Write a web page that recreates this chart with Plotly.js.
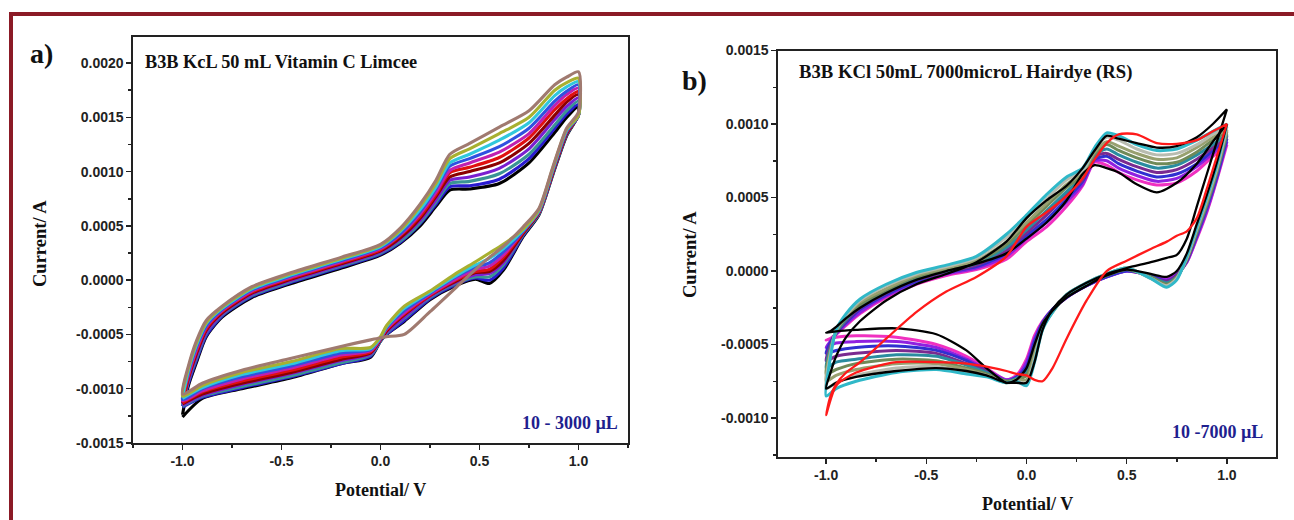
<!DOCTYPE html>
<html><head><meta charset="utf-8">
<script src="https://cdn.plot.ly/plotly-3.0.1.min.js"></script>
<style>html,body{margin:0;padding:0;background:#fff;}#chart{width:1294px;height:520px;}</style>
</head><body><div id="chart"></div>
<script>
// ---------- Panel a: potentials (V) ----------
const potAFwd = [-1.0, -0.97, -0.93, -0.88, -0.8, -0.65, -0.45, -0.2, 0.0, 0.1, 0.2, 0.28, 0.35, 0.45, 0.6, 0.75, 0.88, 0.94, 1.0];
const potARev = [1.0, 0.94, 0.87, 0.8, 0.72, 0.62, 0.55, 0.48, 0.38, 0.25, 0.12, 0.03, 0.0, -0.05, -0.2, -0.45, -0.7, -0.9, -1.0];
// Panel a currents (mA), forward scan then reverse scan
const a0Fwd = [-1.24, -0.97, -0.76, -0.52, -0.34, -0.16, -0.03, 0.11, 0.23, 0.34, 0.50, 0.68, 0.83, 0.84, 0.89, 1.08, 1.36, 1.50, 1.60];
const a1Fwd = [-1.16, -0.95, -0.74, -0.51, -0.33, -0.15, -0.02, 0.12, 0.24, 0.35, 0.52, 0.70, 0.86, 0.87, 0.93, 1.12, 1.40, 1.53, 1.62];
const a2Fwd = [-1.15, -0.93, -0.72, -0.49, -0.32, -0.14, -0.01, 0.13, 0.25, 0.36, 0.53, 0.72, 0.89, 0.91, 0.98, 1.16, 1.43, 1.56, 1.65];
const a3Fwd = [-1.14, -0.92, -0.70, -0.48, -0.31, -0.13, 0.00, 0.14, 0.26, 0.38, 0.55, 0.74, 0.92, 0.95, 1.03, 1.21, 1.48, 1.60, 1.68];
const a4Fwd = [-1.13, -0.90, -0.68, -0.46, -0.30, -0.12, 0.01, 0.15, 0.27, 0.39, 0.57, 0.77, 0.95, 1.00, 1.08, 1.26, 1.52, 1.64, 1.71];
const a5Fwd = [-1.12, -0.89, -0.66, -0.45, -0.29, -0.11, 0.02, 0.16, 0.28, 0.41, 0.59, 0.79, 0.99, 1.04, 1.13, 1.31, 1.57, 1.67, 1.74];
const a6Fwd = [-1.11, -0.87, -0.64, -0.43, -0.28, -0.10, 0.03, 0.17, 0.29, 0.42, 0.61, 0.81, 1.01, 1.08, 1.18, 1.35, 1.61, 1.71, 1.77];
const a7Fwd = [-1.10, -0.85, -0.62, -0.42, -0.27, -0.09, 0.04, 0.18, 0.30, 0.43, 0.63, 0.84, 1.05, 1.12, 1.23, 1.40, 1.65, 1.74, 1.80];
const a8Fwd = [-1.08, -0.83, -0.60, -0.40, -0.26, -0.08, 0.05, 0.19, 0.31, 0.45, 0.65, 0.86, 1.08, 1.16, 1.29, 1.45, 1.70, 1.78, 1.83];
const a9Fwd = [-1.07, -0.81, -0.58, -0.39, -0.25, -0.07, 0.06, 0.20, 0.32, 0.46, 0.68, 0.89, 1.12, 1.21, 1.35, 1.50, 1.75, 1.82, 1.86];
const a10Fwd = [-1.05, -0.79, -0.56, -0.37, -0.24, -0.06, 0.07, 0.21, 0.33, 0.48, 0.70, 0.92, 1.16, 1.26, 1.41, 1.56, 1.80, 1.87, 1.92];
const a0Rev = [1.52, 1.33, 0.97, 0.60, 0.40, 0.09, -0.03, 0.01, -0.05, -0.18, -0.38, -0.50, -0.56, -0.71, -0.77, -0.90, -1.00, -1.09, -1.26];
const a1Rev = [1.52, 1.34, 0.98, 0.61, 0.41, 0.11, 0.00, 0.02, -0.04, -0.17, -0.37, -0.50, -0.56, -0.70, -0.77, -0.89, -0.99, -1.08, -1.17];
const a2Rev = [1.52, 1.34, 0.98, 0.61, 0.42, 0.14, 0.03, 0.03, -0.03, -0.16, -0.35, -0.49, -0.56, -0.69, -0.76, -0.88, -0.98, -1.07, -1.16];
const a3Rev = [1.52, 1.35, 0.99, 0.62, 0.43, 0.16, 0.06, 0.05, -0.02, -0.15, -0.34, -0.48, -0.55, -0.68, -0.74, -0.86, -0.96, -1.06, -1.15];
const a4Rev = [1.52, 1.35, 0.99, 0.62, 0.43, 0.18, 0.08, 0.07, -0.01, -0.14, -0.32, -0.47, -0.55, -0.67, -0.73, -0.85, -0.95, -1.05, -1.14];
const a5Rev = [1.52, 1.36, 1.00, 0.63, 0.44, 0.21, 0.10, 0.08, 0.00, -0.14, -0.31, -0.46, -0.54, -0.66, -0.71, -0.83, -0.93, -1.03, -1.13];
const a6Rev = [1.52, 1.37, 1.01, 0.63, 0.45, 0.23, 0.13, 0.10, 0.01, -0.13, -0.30, -0.45, -0.54, -0.65, -0.69, -0.81, -0.91, -1.02, -1.11];
const a7Rev = [1.52, 1.37, 1.01, 0.64, 0.45, 0.26, 0.16, 0.12, 0.03, -0.12, -0.28, -0.44, -0.53, -0.64, -0.67, -0.79, -0.89, -1.00, -1.10];
const a8Rev = [1.52, 1.38, 1.02, 0.64, 0.46, 0.29, 0.20, 0.14, 0.04, -0.11, -0.26, -0.43, -0.53, -0.63, -0.65, -0.77, -0.87, -0.99, -1.09];
const a9Rev = [1.52, 1.39, 1.03, 0.65, 0.47, 0.33, 0.25, 0.17, 0.06, -0.10, -0.24, -0.42, -0.52, -0.62, -0.63, -0.75, -0.85, -0.97, -1.07];
const a10Rev = [1.55, 1.40, 1.04, 0.66, 0.49, 0.31, 0.21, 0.10, -0.07, -0.29, -0.50, -0.52, -0.53, -0.55, -0.61, -0.72, -0.83, -0.95, -1.05];
const colorsA = ['#000000', '#2a1ad0', '#3a9494', '#7a1fd0', '#8b0000', '#e01010', '#c020b0', '#3050e0', '#30c8dc', '#a8b030', '#a07a70'];

// ---------- Panel b: potentials (V) ----------
const potBFwd = [-1.0, -0.98, -0.95, -0.9, -0.83, -0.7, -0.55, -0.4, -0.25, -0.1, 0.0, 0.1, 0.2, 0.28, 0.34, 0.4, 0.46, 0.55, 0.65, 0.75, 0.85, 0.93, 1.0];
const potBRev = [1.0, 0.95, 0.9, 0.85, 0.8, 0.75, 0.7, 0.62, 0.5, 0.4, 0.3, 0.2, 0.13, 0.08, 0.04, 0.0, -0.05, -0.1, -0.2, -0.3, -0.45, -0.65, -0.85, -0.95, -1.0];
// Panel b currents (mA)
const b1Fwd = [-0.47, -0.46, -0.43, -0.37, -0.29, -0.18, -0.09, -0.03, 0.01, 0.08, 0.20, 0.30, 0.44, 0.58, 0.74, 0.72, 0.67, 0.62, 0.585, 0.60, 0.68, 0.78, 0.86];
const b2Fwd = [-0.52, -0.48, -0.43, -0.36, -0.28, -0.17, -0.08, -0.02, 0.02, 0.10, 0.22, 0.33, 0.47, 0.59, 0.75, 0.75, 0.70, 0.65, 0.61, 0.63, 0.71, 0.80, 0.88];
const b3Fwd = [-0.56, -0.49, -0.42, -0.35, -0.26, -0.16, -0.07, -0.01, 0.03, 0.12, 0.24, 0.35, 0.49, 0.61, 0.76, 0.78, 0.73, 0.68, 0.64, 0.66, 0.73, 0.82, 0.90];
const b4Fwd = [-0.61, -0.51, -0.42, -0.34, -0.25, -0.15, -0.06, -0.01, 0.04, 0.14, 0.26, 0.38, 0.52, 0.62, 0.78, 0.80, 0.76, 0.71, 0.67, 0.69, 0.76, 0.84, 0.92];
const b5Fwd = [-0.66, -0.53, -0.42, -0.33, -0.24, -0.14, -0.05, 0.00, 0.05, 0.16, 0.28, 0.41, 0.54, 0.64, 0.79, 0.83, 0.79, 0.74, 0.70, 0.72, 0.79, 0.86, 0.93];
const b6Fwd = [-0.70, -0.55, -0.41, -0.32, -0.23, -0.13, -0.04, 0.01, 0.06, 0.18, 0.31, 0.44, 0.57, 0.65, 0.80, 0.86, 0.82, 0.77, 0.73, 0.74, 0.81, 0.89, 0.95];
const b7Fwd = [-0.75, -0.56, -0.41, -0.31, -0.21, -0.12, -0.03, 0.02, 0.07, 0.20, 0.33, 0.46, 0.59, 0.67, 0.81, 0.88, 0.85, 0.80, 0.76, 0.77, 0.84, 0.91, 0.96];
const b8Fwd = [-0.80, -0.58, -0.40, -0.30, -0.20, -0.10, -0.02, 0.03, 0.09, 0.23, 0.36, 0.49, 0.62, 0.68, 0.83, 0.91, 0.89, 0.83, 0.79, 0.80, 0.86, 0.93, 0.98];
const b9Fwd = [-0.85, -0.60, -0.40, -0.29, -0.19, -0.09, -0.01, 0.04, 0.10, 0.25, 0.38, 0.52, 0.64, 0.70, 0.84, 0.94, 0.92, 0.86, 0.82, 0.83, 0.89, 0.95, 1.00];
const b1Rev = [0.86, 0.62, 0.40, 0.22, 0.06, -0.02, -0.05, -0.03, 0.00, -0.04, -0.10, -0.18, -0.26, -0.34, -0.44, -0.60, -0.71, -0.74, -0.66, -0.58, -0.50, -0.45, -0.44, -0.45, -0.47];
const b2Rev = [0.88, 0.63, 0.41, 0.23, 0.06, -0.02, -0.06, -0.03, 0.00, -0.04, -0.10, -0.18, -0.26, -0.35, -0.46, -0.62, -0.72, -0.74, -0.67, -0.60, -0.52, -0.48, -0.48, -0.49, -0.52];
const b3Rev = [0.90, 0.64, 0.43, 0.24, 0.07, -0.03, -0.07, -0.03, 0.00, -0.04, -0.10, -0.18, -0.26, -0.35, -0.48, -0.65, -0.72, -0.75, -0.68, -0.61, -0.54, -0.51, -0.52, -0.54, -0.56];
const b4Rev = [0.92, 0.66, 0.44, 0.25, 0.07, -0.03, -0.07, -0.04, 0.01, -0.03, -0.09, -0.17, -0.27, -0.36, -0.51, -0.67, -0.73, -0.75, -0.68, -0.63, -0.56, -0.54, -0.56, -0.58, -0.61];
const b5Rev = [0.93, 0.67, 0.45, 0.26, 0.08, -0.04, -0.08, -0.04, 0.01, -0.03, -0.09, -0.17, -0.27, -0.37, -0.53, -0.69, -0.73, -0.75, -0.69, -0.64, -0.58, -0.57, -0.60, -0.62, -0.66];
const b6Rev = [0.95, 0.68, 0.46, 0.27, 0.08, -0.04, -0.09, -0.04, 0.01, -0.03, -0.09, -0.17, -0.27, -0.37, -0.55, -0.71, -0.74, -0.75, -0.70, -0.66, -0.61, -0.60, -0.63, -0.67, -0.70];
const b7Rev = [0.96, 0.69, 0.47, 0.28, 0.09, -0.05, -0.10, -0.05, 0.02, -0.02, -0.08, -0.16, -0.28, -0.38, -0.57, -0.74, -0.74, -0.76, -0.71, -0.67, -0.63, -0.63, -0.67, -0.71, -0.75];
const b8Rev = [0.98, 0.70, 0.49, 0.29, 0.09, -0.05, -0.10, -0.05, 0.02, -0.02, -0.08, -0.16, -0.28, -0.39, -0.60, -0.76, -0.75, -0.76, -0.71, -0.69, -0.65, -0.66, -0.71, -0.76, -0.80];
const b9Rev = [1.00, 0.72, 0.50, 0.30, 0.10, -0.06, -0.11, -0.05, 0.02, -0.02, -0.08, -0.16, -0.28, -0.40, -0.62, -0.78, -0.75, -0.76, -0.72, -0.70, -0.67, -0.69, -0.75, -0.80, -0.85];
const blackBFwd = [-0.42, -0.41, -0.38, -0.32, -0.25, -0.15, -0.06, 0.00, 0.05, 0.12, 0.22, 0.33, 0.48, 0.66, 0.72, 0.70, 0.67, 0.59, 0.535, 0.60, 0.73, 0.88, 1.00];
const blackBRev = [1.00, 0.74, 0.52, 0.32, 0.12, 0.00, -0.04, -0.02, 0.01, -0.03, -0.10, -0.18, -0.27, -0.36, -0.50, -0.66, -0.74, -0.76, -0.66, -0.54, -0.43, -0.39, -0.40, -0.41, -0.42];
const blackAFwd = [-0.80, -0.70, -0.58, -0.45, -0.34, -0.20, -0.09, -0.02, 0.06, 0.20, 0.36, 0.48, 0.58, 0.70, 0.82, 0.92, 0.90, 0.87, 0.84, 0.85, 0.91, 1.00, 1.10];
const blackARev = [1.10, 0.88, 0.66, 0.44, 0.22, 0.11, 0.09, 0.06, 0.02, -0.02, -0.08, -0.16, -0.26, -0.40, -0.62, -0.76, -0.76, -0.76, -0.71, -0.68, -0.66, -0.68, -0.72, -0.76, -0.80];
const redFwd = [-0.98, -0.86, -0.77, -0.69, -0.62, -0.46, -0.28, -0.14, -0.04, 0.10, 0.30, 0.40, 0.51, 0.63, 0.76, 0.87, 0.93, 0.93, 0.87, 0.865, 0.89, 0.95, 1.00];
const redRev = [1.00, 0.78, 0.56, 0.36, 0.27, 0.24, 0.20, 0.15, 0.07, 0.00, -0.20, -0.46, -0.66, -0.75, -0.74, -0.71, -0.70, -0.68, -0.65, -0.63, -0.62, -0.62, -0.69, -0.78, -0.98];
const colorsB = ['#f030c0', '#9020e0', '#3030d0', '#7a2a90', '#2a8ca0', '#708a58', '#98a070', '#b8bcb0', '#30b8c8', '#000000', '#000000', '#ff1a1a'];

// ---------- Axis ticks ----------
const tickXVals = [-1.0, -0.5, 0.0, 0.5, 1.0];
const tickXText = ['-1.0', '-0.5', '0.0', '0.5', '1.0'];
const minorXA = [-1.25, -0.75, -0.25, 0.25, 0.75, 1.25];
const minorXB = [-0.75, -0.25, 0.25, 0.75];
const tickYAVals = [-0.0015, -0.001, -0.0005, 0, 0.0005, 0.001, 0.0015, 0.002];
const tickYAText = ['-0.0015', '-0.0010', '-0.0005', '0.0000', '0.0005', '0.0010', '0.0015', '0.0020'];
const minorYA = [-0.00125, -0.00075, -0.00025, 0.00025, 0.00075, 0.00125, 0.00175];
const tickYBVals = [-0.001, -0.0005, 0, 0.0005, 0.001, 0.0015];
const tickYBText = ['-0.0010', '-0.0005', '0.0000', '0.0005', '0.0010', '0.0015'];
const minorYB = [-0.00125, -0.00075, -0.00025, 0.00025, 0.00075, 0.00125];

// ---------- Build traces ----------
const W = 1294, H = 520;
const toA = v => v / 1000;
function loopTrace(xf, xr, yf, yr, color, width, xa, ya) {
  return {
    type: 'scatter', mode: 'lines',
    x: xf.concat(xr), y: yf.concat(yr).map(toA),
    xaxis: xa, yaxis: ya,
    line: {color: color, width: width, shape: 'spline', smoothing: 0.7},
    hoverinfo: 'skip', showlegend: false
  };
}
const aFwd = [a0Fwd, a1Fwd, a2Fwd, a3Fwd, a4Fwd, a5Fwd, a6Fwd, a7Fwd, a8Fwd, a9Fwd, a10Fwd];
const aRev = [a0Rev, a1Rev, a2Rev, a3Rev, a4Rev, a5Rev, a6Rev, a7Rev, a8Rev, a9Rev, a10Rev];
const bFwd = [b1Fwd, b2Fwd, b3Fwd, b4Fwd, b5Fwd, b6Fwd, b7Fwd, b8Fwd, b9Fwd, blackBFwd, blackAFwd, redFwd];
const bRev = [b1Rev, b2Rev, b3Rev, b4Rev, b5Rev, b6Rev, b7Rev, b8Rev, b9Rev, blackBRev, blackARev, redRev];

const traces = [];
aFwd.forEach((f, i) => traces.push(loopTrace(potAFwd, potARev, f, aRev[i], colorsA[i], 3.1, 'x', 'y')));
bFwd.forEach((f, i) => traces.push(loopTrace(potBFwd, potBRev, f, bRev[i], colorsB[i], i >= 9 ? 2.3 : 3.0, 'x2', 'y2')));

// ---------- Layout ----------
const tickFont = {family: 'Liberation Sans, Arial, sans-serif', size: 14, color: '#222', weight: 'bold'};
const serif = 'Liberation Serif, Times New Roman, serif';
function axis(extra) {
  return Object.assign({
    showline: true, mirror: true, linecolor: '#222', linewidth: 1.6,
    ticks: 'outside', ticklen: 5, tickwidth: 1.5, tickcolor: '#222',
    showgrid: false, zeroline: false, tickmode: 'array', tickfont: tickFont,
    fixedrange: true
  }, extra);
}
const px = x => x / W, py = y => 1 - y / H;

const layout = {
  width: W, height: H,
  margin: {l: 0, r: 0, t: 0, b: 0},
  paper_bgcolor: '#ffffff', plot_bgcolor: '#ffffff',
  showlegend: false,
  xaxis: axis({domain: [px(133), px(628)], range: [-1.25, 1.25], anchor: 'y',
    tickvals: tickXVals, ticktext: tickXText,
    minor: {tickvals: minorXA, ticks: 'outside', ticklen: 3, tickwidth: 1.5, tickcolor: '#222'}}),
  yaxis: axis({domain: [py(443), py(37)], range: [-0.0015, 0.00224], anchor: 'x',
    tickvals: tickYAVals, ticktext: tickYAText,
    minor: {tickvals: minorYA, ticks: 'outside', ticklen: 3, tickwidth: 1.5, tickcolor: '#222'}}),
  xaxis2: axis({domain: [px(778), px(1276)], range: [-1.24, 1.245], anchor: 'y2',
    tickvals: tickXVals, ticktext: tickXText,
    minor: {tickvals: minorXB, ticks: 'outside', ticklen: 3, tickwidth: 1.5, tickcolor: '#222'}}),
  yaxis2: axis({domain: [py(457), py(50.5)], range: [-0.001265, 0.0015], anchor: 'x2',
    tickvals: tickYBVals, ticktext: tickYBText,
    minor: {tickvals: minorYB, ticks: 'outside', ticklen: 3, tickwidth: 1.5, tickcolor: '#222'}}),
  shapes: [
    {type: 'line', xref: 'paper', yref: 'paper', x0: px(9), x1: 1, y0: py(14), y1: py(14), line: {color: '#8b1a26', width: 4}},
    {type: 'line', xref: 'paper', yref: 'paper', x0: px(11), x1: px(11), y0: 0, y1: py(12), line: {color: '#8b1a26', width: 4}}
  ],
  annotations: [
    {text: 'a)', xref: 'paper', yref: 'paper', x: px(28), y: py(54), xanchor: 'left', yanchor: 'middle', showarrow: false,
      font: {family: serif, size: 28, color: '#111', weight: 'bold'}},
    {text: 'b)', xref: 'paper', yref: 'paper', x: px(680), y: py(80), xanchor: 'left', yanchor: 'middle', showarrow: false,
      font: {family: serif, size: 28, color: '#111', weight: 'bold'}},
    {text: 'B3B KcL 50 mL Vitamin C Limcee', xref: 'paper', yref: 'paper', x: px(143), y: py(62), xanchor: 'left', yanchor: 'middle', showarrow: false,
      font: {family: serif, size: 18.3, color: '#111', weight: 'bold'}},
    {text: 'B3B KCl 50mL 7000microL Hairdye (RS)', xref: 'paper', yref: 'paper', x: px(797), y: py(72), xanchor: 'left', yanchor: 'middle', showarrow: false,
      font: {family: serif, size: 18.7, color: '#111', weight: 'bold'}},
    {text: '10 - 3000 \u00b5L', xref: 'paper', yref: 'paper', x: px(620), y: py(423), xanchor: 'right', yanchor: 'middle', showarrow: false,
      font: {family: serif, size: 18, color: '#1f1f8f', weight: 'bold'}},
    {text: '10 -7000 \u00b5L', xref: 'paper', yref: 'paper', x: px(1265), y: py(432), xanchor: 'right', yanchor: 'middle', showarrow: false,
      font: {family: serif, size: 18, color: '#1f1f8f', weight: 'bold'}},
    {text: 'Potential/ V', xref: 'paper', yref: 'paper', x: px(380.5), y: py(490), xanchor: 'center', yanchor: 'middle', showarrow: false,
      font: {family: serif, size: 18, color: '#111', weight: 'bold'}},
    {text: 'Potential/ V', xref: 'paper', yref: 'paper', x: px(1027), y: py(504), xanchor: 'center', yanchor: 'middle', showarrow: false,
      font: {family: serif, size: 18, color: '#111', weight: 'bold'}},
    {text: 'Current/ A', xref: 'paper', yref: 'paper', x: px(40), y: py(244), xanchor: 'center', yanchor: 'middle', textangle: -90, showarrow: false,
      font: {family: serif, size: 18.5, color: '#111', weight: 'bold'}},
    {text: 'Current/ A', xref: 'paper', yref: 'paper', x: px(690), y: py(255), xanchor: 'center', yanchor: 'middle', textangle: -90, showarrow: false,
      font: {family: serif, size: 18.5, color: '#111', weight: 'bold'}}
  ]
};

Plotly.newPlot('chart', traces, layout, {staticPlot: true, displayModeBar: false});
</script>
</body></html>
